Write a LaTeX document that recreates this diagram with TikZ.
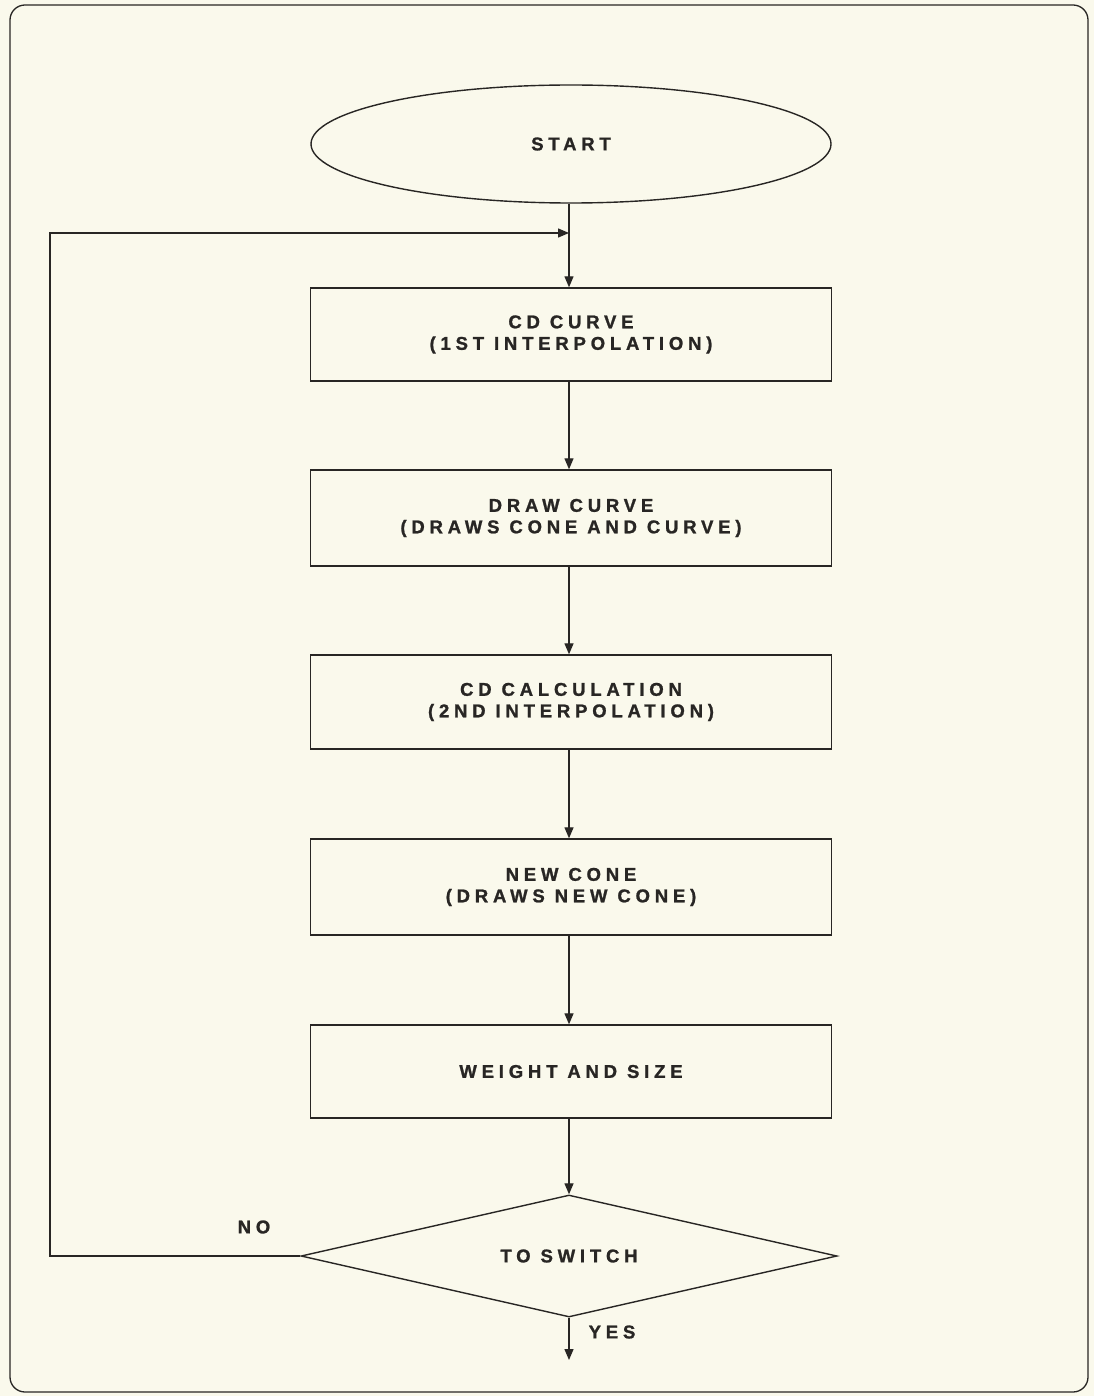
\documentclass[tikz,border=0pt]{standalone}
\usepackage{fontspec}
\setmainfont{Liberation Sans}[LetterSpace=26, BoldFont={Liberation Sans Bold}, BoldFeatures={FakeBold=1.2}]
\usetikzlibrary{shapes.geometric,arrows.meta}
\definecolor{paper}{RGB}{250,249,236}
\definecolor{ink}{RGB}{40,38,36}
\tikzset{
  txt/.style={font=\fontsize{18.5}{21.5}\selectfont\bfseries, text=ink},
  box/.style={draw=ink, line width=1.4pt, rectangle, minimum width=521pt, inner sep=0pt, align=center, txt},
  startshape/.style={draw=ink, line width=1.4pt, ellipse, minimum width=520pt, minimum height=118pt, inner sep=0pt, txt},
  decide/.style={draw=ink, line width=1.4pt, diamond, aspect=4.4, minimum width=536pt, minimum height=122pt, inner sep=0pt, txt},
  conn/.style={draw=ink, line width=1.3pt},
  arr/.style={conn, -{Triangle[length=11pt,width=9pt]}},
  lbl/.style={txt, inner sep=0pt}
}
\begin{document}
\begin{tikzpicture}[x=1pt,y=-1pt]
\useasboundingbox (0,0) rectangle (1094,1396);
\fill[paper] (0,0) rectangle (1094,1396);
\draw[ink, line width=1.3pt, rounded corners=15pt] (10,5) rectangle (1088,1392);

\node[startshape] (start) at (571,144) {START};
\node[box, minimum height=93pt] (b1) at (571,334.5) {CD CURVE\\(1ST INTERPOLATION)};
\node[box, minimum height=96pt] (b2) at (571,518) {DRAW CURVE\\(DRAWS CONE AND CURVE)};
\node[box, minimum height=94pt] (b3) at (571,702) {CD CALCULATION\\(2ND INTERPOLATION)};
\node[box, minimum height=96pt] (b4) at (571,887) {NEW CONE\\(DRAWS NEW CONE)};
\node[box, minimum height=93pt] (b5) at (571,1071.5) {WEIGHT AND SIZE};
\node[decide] (dia) at (569,1256) {TO SWITCH};

\coordinate (j) at (569,233);
\coordinate (lc) at (50,233);
\coordinate (lb) at (50,1256);
\coordinate (endpt) at (569,1360);

\node[lbl] (no) at (254,1227) {NO};
\node[lbl] (yes) at (612,1332) {YES};

\draw[arr] (start.south -| j) -- (b1.north -| j);
\draw[arr] (dia.west) -- (lb) -- (lc) -- (j);
\draw[arr] (b1.south -| j) -- (b2.north -| j);
\draw[arr] (b2.south -| j) -- (b3.north -| j);
\draw[arr] (b3.south -| j) -- (b4.north -| j);
\draw[arr] (b4.south -| j) -- (b5.north -| j);
\draw[arr] (b5.south -| j) -- (dia.north);
\draw[arr] (dia.south) -- (endpt);
\end{tikzpicture}
\end{document}
